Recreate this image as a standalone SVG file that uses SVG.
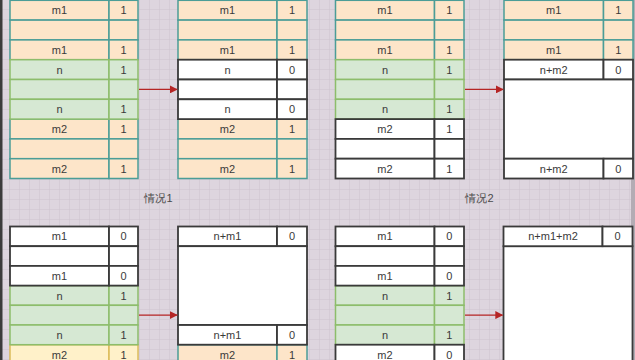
<svg xmlns="http://www.w3.org/2000/svg" width="635" height="360" viewBox="0 0 635 360">
<defs>
<pattern id="grid" width="10" height="10" patternUnits="userSpaceOnUse">
<rect width="10" height="10" fill="#ddd5de"/>
<path d="M10 0V10M0 10H10" fill="none" stroke="#cdc4ce" stroke-width="1"/>
</pattern>
<marker id="ah" viewBox="0 0 10 10" refX="9" refY="5" markerWidth="8" markerHeight="8" markerUnits="userSpaceOnUse" orient="auto">
<path d="M0 0L10 5L0 10z" fill="#b52525"/>
</marker>
<style>
.o{fill:#fde5c9;stroke:#4b9d97;stroke-width:1.5}
.g{fill:#d6e8d3;stroke:#8dbd6b;stroke-width:1.5}
.w{fill:#ffffff;stroke:#3a3a3a;stroke-width:1.8}
.y{fill:#fff1c9;stroke:#dcbc5a;stroke-width:1.5}
text{font-family:"Liberation Sans",Arial,sans-serif;font-size:11px;fill:#3a3a3a;text-anchor:middle;dominant-baseline:central}
.lbl{fill:#4a4a4a;font-size:11px}
.c{fill:none;stroke:#b52525;stroke-width:1.3}
</style>
</defs>
<rect width="635" height="360" fill="url(#grid)"/>
<rect x="0" y="0" width="2.5" height="360" fill="#3c3c3c"/>
<rect x="631" y="0" width="4" height="360" fill="#b3acb4"/>

<!-- Top panel 1 -->
<g id="t1">
<g id="t1r0"><rect class="o" x="10" y="0.3" width="99" height="19.8"/><rect class="o" x="109" y="0.3" width="29" height="19.8"/><text x="59.5" y="10.2">m1</text><text x="123.5" y="10.2">1</text></g>
<g id="t1r1"><rect class="o" x="10" y="20.1" width="99" height="19.8"/><rect class="o" x="109" y="20.1" width="29" height="19.8"/></g>
<g id="t1r2"><rect class="o" x="10" y="39.9" width="99" height="19.8"/><rect class="o" x="109" y="39.9" width="29" height="19.8"/><text x="59.5" y="49.8">m1</text><text x="123.5" y="49.8">1</text></g>
<g id="t1r6"><rect class="o" x="10" y="119.1" width="99" height="19.8"/><rect class="o" x="109" y="119.1" width="29" height="19.8"/><text x="59.5" y="129">m2</text><text x="123.5" y="129">1</text></g>
<g id="t1r7"><rect class="o" x="10" y="138.9" width="99" height="19.8"/><rect class="o" x="109" y="138.9" width="29" height="19.8"/></g>
<g id="t1r8"><rect class="o" x="10" y="158.7" width="99" height="19.8"/><rect class="o" x="109" y="158.7" width="29" height="19.8"/><text x="59.5" y="168.6">m2</text><text x="123.5" y="168.6">1</text></g>
<g id="t1r3"><rect class="g" x="10" y="59.7" width="99" height="19.8"/><rect class="g" x="109" y="59.7" width="29" height="19.8"/><text x="59.5" y="69.6">n</text><text x="123.5" y="69.6">1</text></g>
<g id="t1r4"><rect class="g" x="10" y="79.5" width="99" height="19.8"/><rect class="g" x="109" y="79.5" width="29" height="19.8"/></g>
<g id="t1r5"><rect class="g" x="10" y="99.3" width="99" height="19.8"/><rect class="g" x="109" y="99.3" width="29" height="19.8"/><text x="59.5" y="109.2">n</text><text x="123.5" y="109.2">1</text></g>
</g>

<!-- Top panel 2 -->
<g id="t2">
<g id="t2r0"><rect class="o" x="178" y="0.3" width="99" height="19.8"/><rect class="o" x="277" y="0.3" width="30" height="19.8"/><text x="227.5" y="10.2">m1</text><text x="292" y="10.2">1</text></g>
<g id="t2r1"><rect class="o" x="178" y="20.1" width="99" height="19.8"/><rect class="o" x="277" y="20.1" width="30" height="19.8"/></g>
<g id="t2r2"><rect class="o" x="178" y="39.9" width="99" height="19.8"/><rect class="o" x="277" y="39.9" width="30" height="19.8"/><text x="227.5" y="49.8">m1</text><text x="292" y="49.8">1</text></g>
<g id="t2r6"><rect class="o" x="178" y="119.1" width="99" height="19.8"/><rect class="o" x="277" y="119.1" width="30" height="19.8"/><text x="227.5" y="129">m2</text><text x="292" y="129">1</text></g>
<g id="t2r7"><rect class="o" x="178" y="138.9" width="99" height="19.8"/><rect class="o" x="277" y="138.9" width="30" height="19.8"/></g>
<g id="t2r8"><rect class="o" x="178" y="158.7" width="99" height="19.8"/><rect class="o" x="277" y="158.7" width="30" height="19.8"/><text x="227.5" y="168.6">m2</text><text x="292" y="168.6">1</text></g>
<g id="t2r3"><rect class="w" x="178" y="59.7" width="99" height="19.8"/><rect class="w" x="277" y="59.7" width="30" height="19.8"/><text x="227.5" y="69.6">n</text><text x="292" y="69.6">0</text></g>
<g id="t2r4"><rect class="w" x="178" y="79.5" width="99" height="19.8"/><rect class="w" x="277" y="79.5" width="30" height="19.8"/></g>
<g id="t2r5"><rect class="w" x="178" y="99.3" width="99" height="19.8"/><rect class="w" x="277" y="99.3" width="30" height="19.8"/><text x="227.5" y="109.2">n</text><text x="292" y="109.2">0</text></g>
</g>

<!-- Top panel 3 -->
<g id="t3">
<g id="t3r0"><rect class="o" x="335.5" y="0.3" width="99" height="19.8"/><rect class="o" x="434.5" y="0.3" width="29.5" height="19.8"/><text x="385" y="10.2">m1</text><text x="449.3" y="10.2">1</text></g>
<g id="t3r1"><rect class="o" x="335.5" y="20.1" width="99" height="19.8"/><rect class="o" x="434.5" y="20.1" width="29.5" height="19.8"/></g>
<g id="t3r2"><rect class="o" x="335.5" y="39.9" width="99" height="19.8"/><rect class="o" x="434.5" y="39.9" width="29.5" height="19.8"/><text x="385" y="49.8">m1</text><text x="449.3" y="49.8">1</text></g>
<g id="t3r3"><rect class="g" x="335.5" y="59.7" width="99" height="19.8"/><rect class="g" x="434.5" y="59.7" width="29.5" height="19.8"/><text x="385" y="69.6">n</text><text x="449.3" y="69.6">1</text></g>
<g id="t3r4"><rect class="g" x="335.5" y="79.5" width="99" height="19.8"/><rect class="g" x="434.5" y="79.5" width="29.5" height="19.8"/></g>
<g id="t3r5"><rect class="g" x="335.5" y="99.3" width="99" height="19.8"/><rect class="g" x="434.5" y="99.3" width="29.5" height="19.8"/><text x="385" y="109.2">n</text><text x="449.3" y="109.2">1</text></g>
<g id="t3r6"><rect class="w" x="335.5" y="119.1" width="99" height="19.8"/><rect class="w" x="434.5" y="119.1" width="29.5" height="19.8"/><text x="385" y="129">m2</text><text x="449.3" y="129">1</text></g>
<g id="t3r7"><rect class="w" x="335.5" y="138.9" width="99" height="19.8"/><rect class="w" x="434.5" y="138.9" width="29.5" height="19.8"/></g>
<g id="t3r8"><rect class="w" x="335.5" y="158.7" width="99" height="19.8"/><rect class="w" x="434.5" y="158.7" width="29.5" height="19.8"/><text x="385" y="168.6">m2</text><text x="449.3" y="168.6">1</text></g>
</g>

<!-- Top panel 4 -->
<g id="t4">
<g id="t4r0"><rect class="o" x="504" y="0.3" width="99.5" height="19.8"/><rect class="o" x="603.5" y="0.3" width="29.5" height="19.8"/><text x="553.7" y="10.2">m1</text><text x="618.2" y="10.2">1</text></g>
<g id="t4r1"><rect class="o" x="504" y="20.1" width="99.5" height="19.8"/><rect class="o" x="603.5" y="20.1" width="29.5" height="19.8"/></g>
<g id="t4r2"><rect class="o" x="504" y="39.9" width="99.5" height="19.8"/><rect class="o" x="603.5" y="39.9" width="29.5" height="19.8"/><text x="553.7" y="49.8">m1</text><text x="618.2" y="49.8">1</text></g>
<g id="t4r3"><rect class="w" x="504" y="59.7" width="99.5" height="19.8"/><rect class="w" x="603.5" y="59.7" width="29.5" height="19.8"/><text x="553.7" y="69.6">n+m2</text><text x="618.2" y="69.6">0</text></g>
<g id="t4big"><rect class="w" x="504" y="79.5" width="129" height="79.2"/></g>
<g id="t4r8"><rect class="w" x="504" y="158.7" width="99.5" height="19.8"/><rect class="w" x="603.5" y="158.7" width="29.5" height="19.8"/><text x="553.7" y="168.6">n+m2</text><text x="618.2" y="168.6">0</text></g>
</g>

<!-- Bottom panel 1 -->
<g id="b1">
<g id="b1r6"><rect class="y" x="10" y="344.7" width="99" height="19.7"/><rect class="y" x="109" y="344.7" width="29" height="19.7"/><text x="59.5" y="354.5">m2</text><text x="123.5" y="354.5">1</text></g>
<g id="b1r3"><rect class="g" x="10" y="285.6" width="99" height="19.7"/><rect class="g" x="109" y="285.6" width="29" height="19.7"/><text x="59.5" y="295.5">n</text><text x="123.5" y="295.5">1</text></g>
<g id="b1r4"><rect class="g" x="10" y="305.3" width="99" height="19.7"/><rect class="g" x="109" y="305.3" width="29" height="19.7"/></g>
<g id="b1r5"><rect class="g" x="10" y="325" width="99" height="19.7"/><rect class="g" x="109" y="325" width="29" height="19.7"/><text x="59.5" y="334.9">n</text><text x="123.5" y="334.9">1</text></g>
<g id="b1r0"><rect class="w" x="10" y="226.5" width="99" height="19.7"/><rect class="w" x="109" y="226.5" width="29" height="19.7"/><text x="59.5" y="236.4">m1</text><text x="123.5" y="236.4">0</text></g>
<g id="b1r1"><rect class="w" x="10" y="246.2" width="99" height="19.7"/><rect class="w" x="109" y="246.2" width="29" height="19.7"/></g>
<g id="b1r2"><rect class="w" x="10" y="265.9" width="99" height="19.7"/><rect class="w" x="109" y="265.9" width="29" height="19.7"/><text x="59.5" y="275.8">m1</text><text x="123.5" y="275.8">0</text></g>
</g>

<!-- Bottom panel 2 -->
<g id="b2">
<g id="b2r6"><rect class="o" x="178" y="344.7" width="99" height="19.7"/><rect class="o" x="277" y="344.7" width="30" height="19.7"/><text x="227.5" y="354.5">m2</text><text x="292" y="354.5">1</text></g>
<g id="b2r0"><rect class="w" x="178" y="226.5" width="99" height="19.7"/><rect class="w" x="277" y="226.5" width="30" height="19.7"/><text x="227.5" y="236.4">n+m1</text><text x="292" y="236.4">0</text></g>
<g id="b2big"><rect class="w" x="178" y="246.2" width="129" height="78.8"/></g>
<g id="b2r5"><rect class="w" x="178" y="325" width="99" height="19.7"/><rect class="w" x="277" y="325" width="30" height="19.7"/><text x="227.5" y="334.9">n+m1</text><text x="292" y="334.9">0</text></g>
</g>

<!-- Bottom panel 3 -->
<g id="b3">
<g id="b3r3"><rect class="g" x="335.5" y="285.6" width="99" height="19.7"/><rect class="g" x="434.5" y="285.6" width="29.5" height="19.7"/><text x="385" y="295.5">n</text><text x="449.3" y="295.5">1</text></g>
<g id="b3r4"><rect class="g" x="335.5" y="305.3" width="99" height="19.7"/><rect class="g" x="434.5" y="305.3" width="29.5" height="19.7"/></g>
<g id="b3r5"><rect class="g" x="335.5" y="325" width="99" height="19.7"/><rect class="g" x="434.5" y="325" width="29.5" height="19.7"/><text x="385" y="334.9">n</text><text x="449.3" y="334.9">1</text></g>
<g id="b3r0"><rect class="w" x="335.5" y="226.5" width="99" height="19.7"/><rect class="w" x="434.5" y="226.5" width="29.5" height="19.7"/><text x="385" y="236.4">m1</text><text x="449.3" y="236.4">0</text></g>
<g id="b3r1"><rect class="w" x="335.5" y="246.2" width="99" height="19.7"/><rect class="w" x="434.5" y="246.2" width="29.5" height="19.7"/></g>
<g id="b3r2"><rect class="w" x="335.5" y="265.9" width="99" height="19.7"/><rect class="w" x="434.5" y="265.9" width="29.5" height="19.7"/><text x="385" y="275.8">m1</text><text x="449.3" y="275.8">0</text></g>
<g id="b3r6"><rect class="w" x="335.5" y="344.7" width="99" height="19.7"/><rect class="w" x="434.5" y="344.7" width="29.5" height="19.7"/><text x="385" y="354.5">m2</text><text x="449.3" y="354.5">0</text></g>
</g>

<!-- Bottom panel 4 -->
<g id="b4">
<g id="b4big"><rect class="w" x="503.5" y="246.2" width="129" height="130"/></g>
<g id="b4r0"><rect class="w" x="503.5" y="226.5" width="99" height="19.7"/><rect class="w" x="602.5" y="226.5" width="30" height="19.7"/><text x="553" y="236.4">n+m1+m2</text><text x="617.5" y="236.4">0</text></g>
</g>

<g id="label1"><text class="lbl" x="158.5" y="198">情况1</text></g>
<g id="label2"><text class="lbl" x="479.5" y="198">情况2</text></g>

<g id="connectors">
<line class="c" x1="139" y1="89.4" x2="177" y2="89.4" marker-end="url(#ah)"/>
<line class="c" x1="465" y1="89.4" x2="503" y2="89.4" marker-end="url(#ah)"/>
<line class="c" x1="139" y1="315.1" x2="177" y2="315.1" marker-end="url(#ah)"/>
<line class="c" x1="465" y1="315.1" x2="502.5" y2="315.1" marker-end="url(#ah)"/>
</g>
</svg>
